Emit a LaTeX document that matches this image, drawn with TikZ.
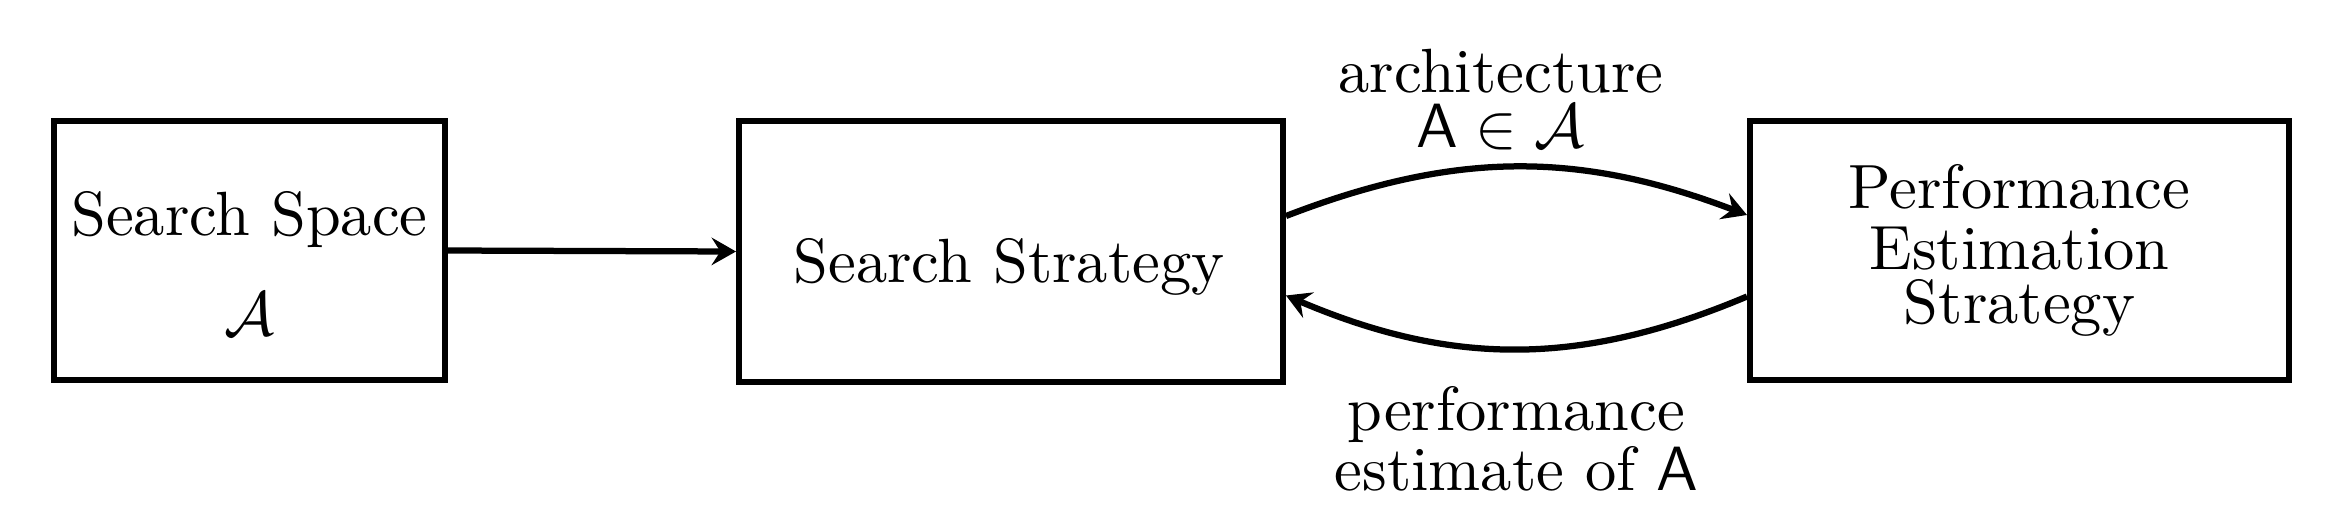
\documentclass[tikz,border=0pt]{standalone}
\usetikzlibrary{arrows.meta,calc}
\begin{document}
\begin{tikzpicture}[x=0.16pt,y=0.16pt,
  box/.style={draw, line width=1pt, inner sep=0pt, minimum height=41.4pt},
  conn/.style={line width=1pt, -{Stealth[length=3.9pt,width=4.4pt,inset=1.4pt]}},
  txt/.style={inner sep=0pt, align=center}]
\useasboundingbox (0,0) rectangle (2344,-506);
\node[box, minimum width=62.5pt] (b1) at (249.5,-250.5) {};
\node[box, minimum width=87pt, minimum height=41.7pt] (b2) at (1011,-251.5) {};
\node[box, minimum width=86.2pt, align=center] (b3) at (2019.5,-250.5)
  {Performance\\[-2.24pt]Estimation\\[-3.36pt]Strategy};
\node[txt, anchor=base] (t1) at (249.5,-235) {Search Space};
\node[txt, anchor=base] (t1b) at (249.5,-335) {$\mathcal{A}$};
\node[txt, anchor=base] (t2) at (1009,-282) {Search Strategy};
\draw[conn] (b1.east) -- (b2.west);
\draw[conn] ($(b2.east)+(0,35.5)$) to[bend left=21]
  node[midway, above=2.3pt, xshift=-2.5pt, txt] (l1) {architecture\\[-3.2pt]$\mathsf{A}\in\mathcal{A}$}
  ($(b3.west)+(0,35.5)$);
\draw[conn] ($(b3.west)+(0,-46)$) to[bend left=23]
  node[midway, below=5.5pt, txt] (l2) {performance\\[-2.4pt]estimate of $\mathsf{A}$}
  ($(b2.east)+(0,-44)$);
\end{tikzpicture}
\end{document}
